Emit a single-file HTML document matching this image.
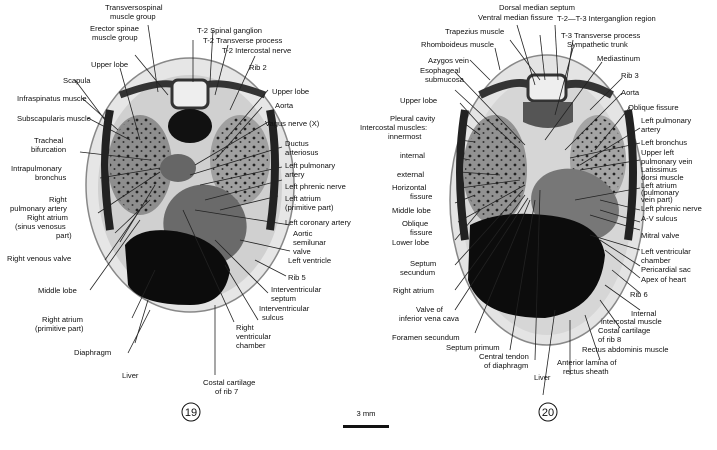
<!DOCTYPE html>
<html><head><meta charset="utf-8"><style>
html,body{margin:0;padding:0;background:#fff;}
svg{display:block}
text{font-family:"Liberation Sans",sans-serif;font-size:7.6px;fill:#111}
</style></head><body>
<svg width="717" height="450" viewBox="0 0 717 450" xmlns="http://www.w3.org/2000/svg">
<defs>
<pattern id="sp" width="9" height="9" patternUnits="userSpaceOnUse">
<circle cx="2" cy="3" r="1.4" fill="#222"/><circle cx="6.5" cy="7" r="1" fill="#333"/>
</pattern>
</defs>
<rect width="717" height="450" fill="#fff"/>
<!-- Section 19 -->
<ellipse cx="190" cy="185" rx="104" ry="127" fill="#e6e6e6" stroke="#888" stroke-width="1.5"/>
<ellipse cx="190" cy="188" rx="92" ry="113" fill="#d0d0d0"/>
<path d="M110 110 Q100 160 110 230" stroke="#222" stroke-width="8" fill="none"/>
<path d="M270 110 Q280 160 270 230" stroke="#222" stroke-width="8" fill="none"/>
<path d="M120 95 Q160 80 175 85" stroke="#333" stroke-width="7" fill="none"/>
<path d="M205 85 Q225 80 265 95" stroke="#333" stroke-width="7" fill="none"/>
<ellipse cx="140" cy="165" rx="32" ry="50" fill="#8e8e8e"/>
<ellipse cx="140" cy="165" rx="30" ry="48" fill="url(#sp)"/>
<ellipse cx="240" cy="160" rx="30" ry="45" fill="#a0a0a0"/>
<ellipse cx="240" cy="160" rx="28" ry="42" fill="url(#sp)"/>
<rect x="172" y="80" width="36" height="28" rx="6" fill="#eee" stroke="#333" stroke-width="3"/>
<ellipse cx="190" cy="126" rx="22" ry="17" fill="#111"/>
<ellipse cx="178" cy="168" rx="18" ry="14" fill="#666"/>
<ellipse cx="205" cy="225" rx="42" ry="40" fill="#6a6a6a" transform="rotate(25 205 225)"/>
<path d="M125 245 Q140 225 180 232 Q220 240 230 270 Q225 305 190 305 Q140 305 128 285 Z" fill="#0c0c0c"/>
<!-- Section 20 -->
<ellipse cx="547" cy="200" rx="97" ry="145" fill="#e4e4e4" stroke="#888" stroke-width="1.5"/>
<ellipse cx="547" cy="205" rx="85" ry="130" fill="#d6d6d6"/>
<path d="M465 110 Q455 170 465 240" stroke="#222" stroke-width="8" fill="none"/>
<path d="M628 110 Q638 170 628 240" stroke="#222" stroke-width="8" fill="none"/>
<path d="M480 95 Q515 78 530 85" stroke="#333" stroke-width="8" fill="none"/>
<path d="M565 85 Q585 80 612 95" stroke="#333" stroke-width="8" fill="none"/>
<ellipse cx="495" cy="170" rx="32" ry="55" fill="#929292"/>
<ellipse cx="495" cy="170" rx="30" ry="52" fill="url(#sp)"/>
<ellipse cx="598" cy="160" rx="28" ry="45" fill="#a4a4a4"/>
<ellipse cx="598" cy="160" rx="26" ry="42" fill="url(#sp)"/>
<rect x="528" y="75" width="38" height="26" rx="6" fill="#eee" stroke="#333" stroke-width="3"/>
<path d="M523 102 h50 v20 q-25 12 -50 0z" fill="#555"/>
<ellipse cx="575" cy="205" rx="45" ry="35" fill="#777" transform="rotate(20 575 205)"/>
<path d="M470 225 Q500 210 545 215 Q600 220 605 255 Q600 310 545 318 Q480 318 468 280 Z" fill="#0c0c0c"/>
<!-- leaders section 19 -->
<g stroke="#222" stroke-width="0.8" fill="none">
<line x1="148" y1="25" x2="158" y2="92"/><line x1="135" y1="55" x2="168" y2="95"/>
<line x1="193" y1="40" x2="193" y2="82"/><line x1="213" y1="30" x2="210" y2="82"/><line x1="228" y1="45" x2="215" y2="95"/>
<line x1="120" y1="68" x2="140" y2="140"/><line x1="255" y1="56" x2="230" y2="110"/><line x1="268" y1="90" x2="225" y2="140"/>
<line x1="262" y1="107" x2="215" y2="160"/><line x1="268" y1="122" x2="195" y2="165"/>
<line x1="282" y1="147" x2="190" y2="175"/><line x1="282" y1="167" x2="200" y2="185"/><line x1="282" y1="180" x2="205" y2="200"/>
<line x1="278" y1="196" x2="220" y2="210"/><line x1="290" y1="225" x2="195" y2="210"/><line x1="290" y1="251" x2="240" y2="240"/>
<line x1="286" y1="276" x2="255" y2="260"/><line x1="268" y1="293" x2="215" y2="240"/><line x1="258" y1="320" x2="225" y2="265"/>
<line x1="234" y1="322" x2="183" y2="210"/><line x1="215" y1="375" x2="215" y2="305"/><line x1="132" y1="318" x2="155" y2="270"/>
<line x1="90" y1="290" x2="140" y2="220"/><line x1="105" y1="260" x2="140" y2="210"/><line x1="115" y1="233" x2="150" y2="200"/>
<line x1="120" y1="242" x2="155" y2="185"/><line x1="98" y1="213" x2="160" y2="172"/><line x1="100" y1="178" x2="160" y2="168"/>
<line x1="80" y1="152" x2="150" y2="160"/><line x1="88" y1="118" x2="130" y2="140"/><line x1="82" y1="98" x2="118" y2="130"/>
<line x1="75" y1="80" x2="105" y2="120"/><line x1="128" y1="353" x2="150" y2="310"/><line x1="135" y1="343" x2="148" y2="300"/>
</g>
<!-- leaders section 20 -->
<g stroke="#222" stroke-width="0.8" fill="none">
<line x1="517" y1="25" x2="535" y2="85"/><line x1="510" y1="40" x2="540" y2="80"/><line x1="540" y1="35" x2="545" y2="80"/>
<line x1="555" y1="25" x2="558" y2="80"/><line x1="573" y1="40" x2="565" y2="90"/><line x1="573" y1="48" x2="555" y2="115"/>
<line x1="495" y1="48" x2="500" y2="70"/><line x1="470" y1="60" x2="490" y2="80"/>
<line x1="455" y1="72" x2="525" y2="145"/><line x1="455" y1="90" x2="520" y2="150"/>
<line x1="602" y1="62" x2="545" y2="140"/><line x1="622" y1="78" x2="590" y2="110"/><line x1="622" y1="93" x2="565" y2="150"/>
<line x1="630" y1="107" x2="595" y2="150"/><line x1="640" y1="128" x2="580" y2="165"/><line x1="640" y1="143" x2="570" y2="158"/>
<line x1="640" y1="160" x2="580" y2="170"/><line x1="640" y1="188" x2="575" y2="200"/><line x1="640" y1="210" x2="600" y2="200"/>
<line x1="640" y1="222" x2="600" y2="210"/><line x1="640" y1="230" x2="590" y2="215"/><line x1="640" y1="250" x2="590" y2="235"/>
<line x1="640" y1="266" x2="600" y2="240"/><line x1="640" y1="278" x2="605" y2="250"/><line x1="640" y1="293" x2="612" y2="270"/>
<line x1="640" y1="310" x2="605" y2="285"/><line x1="620" y1="328" x2="600" y2="300"/><line x1="600" y1="360" x2="585" y2="315"/>
<line x1="570" y1="375" x2="570" y2="320"/><line x1="543" y1="395" x2="555" y2="310"/>
<line x1="460" y1="103" x2="480" y2="125"/><line x1="460" y1="120" x2="480" y2="135"/><line x1="460" y1="140" x2="475" y2="142"/>
<line x1="460" y1="158" x2="470" y2="160"/><line x1="460" y1="172" x2="500" y2="175"/><line x1="460" y1="188" x2="520" y2="180"/>
<line x1="455" y1="203" x2="475" y2="195"/><line x1="458" y1="222" x2="525" y2="185"/><line x1="455" y1="240" x2="480" y2="210"/>
<line x1="455" y1="265" x2="523" y2="190"/><line x1="455" y1="290" x2="525" y2="195"/><line x1="455" y1="310" x2="528" y2="198"/>
<line x1="475" y1="333" x2="530" y2="200"/><line x1="510" y1="350" x2="535" y2="200"/><line x1="535" y1="360" x2="540" y2="190"/>
</g>
<!-- labels 19 -->
<g>
<text x="105" y="10">Transversospinal</text><text x="110" y="19">muscle group</text>
<text x="90" y="31">Erector spinae</text><text x="92" y="40">muscle group</text>
<text x="197" y="33">T-2 Spinal ganglion</text><text x="203" y="43">T-2 Transverse process</text>
<text x="222" y="53">T-2 Intercostal nerve</text><text x="249" y="70">Rib 2</text>
<text x="91" y="67">Upper lobe</text><text x="63" y="83">Scapula</text>
<text x="17" y="101">Infraspinatus muscle</text><text x="17" y="121">Subscapularis muscle</text>
<text x="34" y="143">Tracheal</text><text x="31" y="152">bifurcation</text>
<text x="11" y="171">Intrapulmonary</text><text x="35" y="180">bronchus</text>
<text x="49" y="202">Right</text><text x="10" y="211">pulmonary artery</text>
<text x="27" y="220">Right atrium</text><text x="15" y="229">(sinus venosus</text><text x="56" y="238">part)</text>
<text x="7" y="261">Right venous valve</text><text x="38" y="293">Middle lobe</text>
<text x="42" y="322">Right atrium</text><text x="35" y="331">(primitive part)</text>
<text x="74" y="355">Diaphragm</text><text x="122" y="378">Liver</text>
<text x="272" y="94">Upper lobe</text><text x="275" y="108">Aorta</text>
<text x="265" y="126">Vagus nerve (X)</text>
<text x="285" y="146">Ductus</text><text x="285" y="155">arteriosus</text>
<text x="285" y="168">Left pulmonary</text><text x="285" y="177">artery</text>
<text x="285" y="189">Left phrenic nerve</text>
<text x="285" y="201">Left atrium</text><text x="285" y="210">(primitive part)</text>
<text x="285" y="225">Left coronary artery</text>
<text x="293" y="236">Aortic</text><text x="293" y="245">semilunar</text><text x="293" y="254">valve</text>
<text x="288" y="263">Left ventricle</text><text x="288" y="280">Rib 5</text>
<text x="271" y="292">Interventricular</text><text x="271" y="301">septum</text>
<text x="259" y="311">Interventricular</text><text x="262" y="320">sulcus</text>
<text x="236" y="330">Right</text><text x="236" y="339">ventricular</text><text x="236" y="348">chamber</text>
<text x="203" y="385">Costal cartilage</text><text x="215" y="394">of rib 7</text>
</g>
<!-- labels 20 -->
<g>
<text x="499" y="10">Dorsal median septum</text><text x="478" y="20">Ventral median fissure</text>
<text x="557" y="21">T-2—T-3 Interganglion region</text>
<text x="445" y="34">Trapezius muscle</text><text x="561" y="38">T-3 Transverse process</text>
<text x="567" y="47">Sympathetic trunk</text>
<text x="421" y="47">Rhomboideus muscle</text>
<text x="428" y="63">Azygos vein</text><text x="420" y="73">Esophageal</text><text x="425" y="82">submucosa</text>
<text x="597" y="61">Mediastinum</text><text x="621" y="78">Rib 3</text><text x="621" y="95">Aorta</text>
<text x="628" y="110">Oblique fissure</text>
<text x="400" y="103">Upper lobe</text>
<text x="390" y="121">Pleural cavity</text><text x="360" y="130">Intercostal muscles:</text><text x="388" y="139">innermost</text>
<text x="400" y="158">internal</text><text x="397" y="177">external</text>
<text x="392" y="190">Horizontal</text><text x="410" y="199">fissure</text>
<text x="392" y="213">Middle lobe</text><text x="402" y="226">Oblique</text><text x="410" y="235">fissure</text>
<text x="392" y="245">Lower lobe</text>
<text x="410" y="266">Septum</text><text x="400" y="275">secundum</text>
<text x="393" y="293">Right atrium</text>
<text x="416" y="312">Valve of</text><text x="399" y="321">inferior vena cava</text>
<text x="392" y="340">Foramen secundum</text>
<text x="446" y="350">Septum primum</text>
<text x="479" y="359">Central tendon</text><text x="484" y="368">of diaphragm</text>
<text x="534" y="380">Liver</text>
<text x="641" y="123">Left pulmonary</text><text x="641" y="132">artery</text>
<text x="641" y="145">Left bronchus</text>
<text x="641" y="155">Upper left</text><text x="641" y="164">pulmonary vein</text>
<text x="641" y="172">Latissimus</text><text x="641" y="180">dorsi muscle</text>
<text x="641" y="188">Left atrium</text><text x="641" y="195">(pulmonary</text><text x="641" y="202">vein part)</text>
<text x="641" y="211">Left phrenic nerve</text><text x="641" y="221">A-V sulcus</text>
<text x="641" y="238">Mitral valve</text>
<text x="641" y="254">Left ventricular</text><text x="641" y="263">chamber</text>
<text x="641" y="272">Pericardial sac</text><text x="641" y="282">Apex of heart</text>
<text x="630" y="297">Rib 6</text>
<text x="631" y="316">Internal</text><text x="601" y="324">intercostal muscle</text>
<text x="598" y="333">Costal cartilage</text><text x="598" y="342">of rib 8</text>
<text x="582" y="352">Rectus abdominis muscle</text>
<text x="557" y="365">Anterior lamina of</text><text x="563" y="374">rectus sheath</text>
</g>
<circle cx="191" cy="412" r="9" fill="none" stroke="#111" stroke-width="1"/>
<text x="191" y="416" text-anchor="middle" style="font-size:11px">19</text>
<circle cx="548" cy="412" r="9" fill="none" stroke="#111" stroke-width="1"/>
<text x="548" y="416" text-anchor="middle" style="font-size:11px">20</text>
<text x="366" y="416" text-anchor="middle">3 mm</text>
<rect x="343" y="425" width="46" height="3" fill="#111"/>
</svg>
</body></html>
